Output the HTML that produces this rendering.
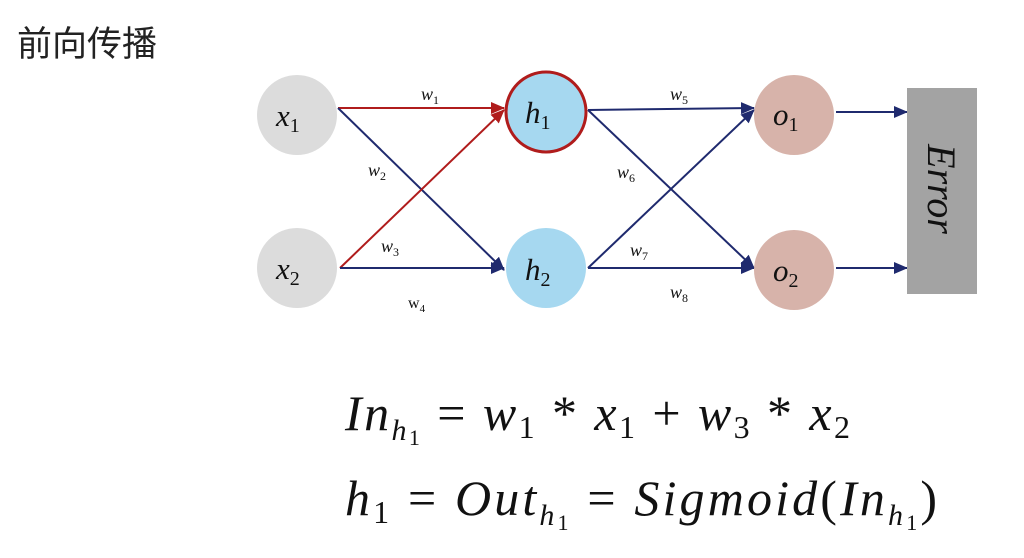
<!DOCTYPE html>
<html><head><meta charset="utf-8"><style>
body{margin:0;background:#fff;width:1024px;height:553px;overflow:hidden}
</style></head><body>
<svg width="1024" height="553" viewBox="0 0 1024 553" xmlns="http://www.w3.org/2000/svg">
<defs>
<marker id="ab" markerWidth="14" markerHeight="12" refX="13" refY="6" orient="auto" markerUnits="userSpaceOnUse"><path d="M0,0 L14,6 L0,12 z" fill="#1f2a6e"/></marker>
<marker id="ar" markerWidth="14" markerHeight="12" refX="13" refY="6" orient="auto" markerUnits="userSpaceOnUse"><path d="M0,0 L14,6 L0,12 z" fill="#b01c1c"/></marker>
</defs>
<text x="17" y="56" font-family="Liberation Sans, Noto Sans CJK SC, sans-serif" font-size="35" fill="#222">前向传播</text>
<g stroke-width="2" fill="none">
<line x1="338" y1="108" x2="504" y2="108" stroke="#b01c1c" marker-end="url(#ar)"/>
<line x1="338" y1="108" x2="504" y2="270" stroke="#1f2a6e" marker-end="url(#ab)"/>
<line x1="340" y1="268" x2="504" y2="110" stroke="#b01c1c" marker-end="url(#ar)"/>
<line x1="340" y1="268" x2="504" y2="268" stroke="#1f2a6e" marker-end="url(#ab)"/>
<line x1="588" y1="110" x2="754" y2="108" stroke="#1f2a6e" marker-end="url(#ab)"/>
<line x1="588" y1="110" x2="754" y2="268" stroke="#1f2a6e" marker-end="url(#ab)"/>
<line x1="588" y1="268" x2="754" y2="110" stroke="#1f2a6e" marker-end="url(#ab)"/>
<line x1="588" y1="268" x2="754" y2="268" stroke="#1f2a6e" marker-end="url(#ab)"/>
<line x1="836" y1="112" x2="907" y2="112" stroke="#1f2a6e" marker-end="url(#ab)"/>
<line x1="836" y1="268" x2="907" y2="268" stroke="#1f2a6e" marker-end="url(#ab)"/>
</g>
<circle cx="297" cy="115" r="40" fill="#dcdcdc"/>
<circle cx="297" cy="268" r="40" fill="#dcdcdc"/>
<circle cx="546" cy="112" r="40" fill="#a6d8f0" stroke="#b01c1c" stroke-width="3"/>
<circle cx="546" cy="268" r="40" fill="#a6d8f0"/>
<circle cx="794" cy="115" r="40" fill="#d7b3aa"/>
<circle cx="794" cy="270" r="40" fill="#d7b3aa"/>
<rect x="907" y="88" width="70" height="206" fill="#a3a3a3"/>
<text transform="translate(928,189) rotate(90)" text-anchor="middle" font-family="Liberation Serif, serif" font-style="italic" font-size="40" fill="#111">Error</text>
<g font-family="Liberation Serif, serif" font-style="italic" fill="#111">
<text x="276" y="126" font-size="31">x<tspan font-size="20" dy="6" font-style="normal">1</tspan></text>
<text x="276" y="279" font-size="31">x<tspan font-size="20" dy="6" font-style="normal">2</tspan></text>
<text x="525" y="123" font-size="31">h<tspan font-size="20" dy="6" font-style="normal">1</tspan></text>
<text x="525" y="280" font-size="31">h<tspan font-size="20" dy="6" font-style="normal">2</tspan></text>
<text x="773" y="125" font-size="31">o<tspan font-size="20" dy="6" font-style="normal">1</tspan></text>
<text x="773" y="281" font-size="31">o<tspan font-size="20" dy="6" font-style="normal">2</tspan></text>
<text x="421" y="100" font-size="18">w<tspan font-size="12" dy="4" font-style="normal">1</tspan></text>
<text x="368" y="176" font-size="18">w<tspan font-size="12" dy="4" font-style="normal">2</tspan></text>
<text x="381" y="252" font-size="18">w<tspan font-size="12" dy="4" font-style="normal">3</tspan></text>
<text x="408" y="308" font-size="16" font-style="normal">w<tspan font-size="11" dy="4">4</tspan></text>
<text x="670" y="100" font-size="18">w<tspan font-size="12" dy="4" font-style="normal">5</tspan></text>
<text x="617" y="178" font-size="18">w<tspan font-size="12" dy="4" font-style="normal">6</tspan></text>
<text x="630" y="256" font-size="18">w<tspan font-size="12" dy="4" font-style="normal">7</tspan></text>
<text x="670" y="298" font-size="18">w<tspan font-size="12" dy="4" font-style="normal">8</tspan></text>
</g>
<g font-family="Liberation Serif, serif" font-style="italic" fill="#111" font-size="50">
<text x="345" y="430" textLength="505" lengthAdjust="spacing">In<tspan font-size="30" dy="10">h</tspan><tspan font-size="22" dy="5" font-style="normal">1</tspan><tspan dy="-15" font-style="normal"> = </tspan>w<tspan font-size="32" dy="8" font-style="normal">1</tspan><tspan dy="-8" font-style="normal"> * </tspan>x<tspan font-size="32" dy="8" font-style="normal">1</tspan><tspan dy="-8" font-style="normal"> + </tspan>w<tspan font-size="32" dy="8" font-style="normal">3</tspan><tspan dy="-8" font-style="normal"> * </tspan>x<tspan font-size="32" dy="8" font-style="normal">2</tspan></text>
<text x="345" y="515" textLength="592" lengthAdjust="spacing">h<tspan font-size="32" dy="8" font-style="normal">1</tspan><tspan dy="-8" font-style="normal"> = </tspan>Out<tspan font-size="30" dy="10">h</tspan><tspan font-size="22" dy="5" font-style="normal">1</tspan><tspan dy="-15" font-style="normal"> = </tspan>Sigmoid<tspan font-style="normal">(</tspan>In<tspan font-size="30" dy="10">h</tspan><tspan font-size="22" dy="5" font-style="normal">1</tspan><tspan dy="-15" font-style="normal">)</tspan></text>
</g>
</svg>
</body></html>
